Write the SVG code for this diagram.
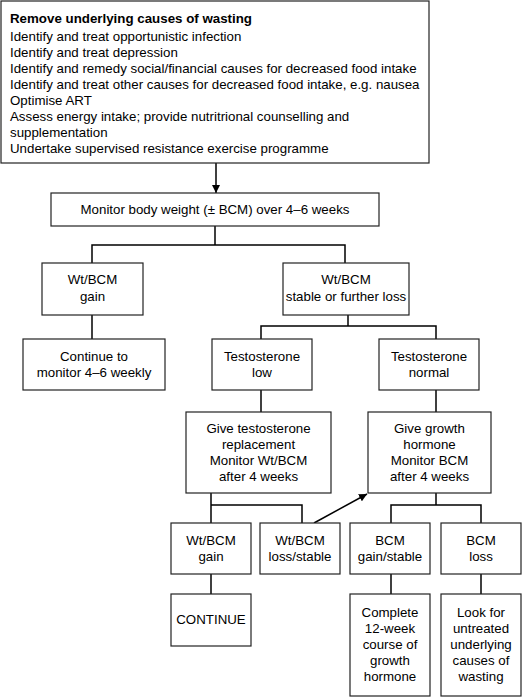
<svg xmlns="http://www.w3.org/2000/svg" width="522" height="697" viewBox="0 0 522 697">
<defs>
<marker id="arr" viewBox="0 0 10 10" refX="10" refY="5" markerWidth="8" markerHeight="8" markerUnits="userSpaceOnUse" orient="auto">
<path d="M0,0 L10,5 L0,10 z" fill="#000"/>
</marker>
<style>
.box{fill:#fff;stroke:#222;stroke-width:1.2}
text{font-family:"Liberation Sans",Arial,sans-serif;font-size:13.3px;fill:#000}
.c{text-anchor:middle}
.b{font-weight:bold;font-size:12.8px}
.ln{fill:none;stroke:#000;stroke-width:1.5}
</style>
</defs>
<rect width="522" height="697" fill="#fff"/>
<g id="connectors">
<line class="ln" x1="216" y1="163" x2="216" y2="193" marker-end="url(#arr)"/>
<polyline class="ln" points="92,263 92,245 345,245 345,263"/>
<line class="ln" x1="215" y1="226" x2="215" y2="245"/>
<line class="ln" x1="92" y1="315" x2="92" y2="339"/>
<line class="ln" x1="348" y1="315" x2="348" y2="326"/>
<polyline class="ln" points="261,339 261,326 436,326 436,339"/>
<line class="ln" x1="261" y1="390" x2="261" y2="412"/>
<line class="ln" x1="436" y1="390" x2="436" y2="412"/>
<polyline class="ln" points="211,493 211,523"/>
<polyline class="ln" points="211,505 302,505 302,523"/>
<line class="ln" x1="436" y1="493" x2="436" y2="505"/>
<polyline class="ln" points="391,523 391,505 481,505 481,523"/>
<line class="ln" x1="314" y1="523" x2="367" y2="494" marker-end="url(#arr)"/>
<line class="ln" x1="211" y1="574" x2="211" y2="594"/>
<line class="ln" x1="391" y1="574" x2="391" y2="594"/>
<line class="ln" x1="481" y1="574" x2="481" y2="594"/>
</g>
<g id="remove">
<rect class="box" x="1" y="1" width="428" height="162"/>
<text class="b" x="10" y="23" textLength="242" lengthAdjust="spacingAndGlyphs">Remove underlying causes of wasting</text>
<text x="10" y="41">Identify and treat opportunistic infection</text>
<text x="10" y="57">Identify and treat depression</text>
<text x="10" y="73">Identify and remedy social/financial causes for decreased food intake</text>
<text x="10" y="89">Identify and treat other causes for decreased food intake, e.g. nausea</text>
<text x="10" y="105">Optimise ART</text>
<text x="10" y="121">Assess energy intake; provide nutritrional counselling and</text>
<text x="10" y="137">supplementation</text>
<text x="10" y="153">Undertake supervised resistance exercise programme</text>
</g>
<g id="monitor">
<rect class="box" x="51" y="193" width="328" height="33"/>
<text class="c" x="215" y="214">Monitor body weight (± BCM) over 4–6 weeks</text>
</g>
<g id="gain1">
<rect class="box" x="42" y="263" width="101" height="52"/>
<text class="c" x="92.5" y="284">Wt/BCM</text>
<text class="c" x="92.5" y="301">gain</text>
</g>
<g id="stable1">
<rect class="box" x="283" y="263" width="126" height="52"/>
<text class="c" x="346" y="284">Wt/BCM</text>
<text class="c" x="346" y="301">stable or further loss</text>
</g>
<g id="continue1">
<rect class="box" x="23" y="339" width="142" height="51"/>
<text class="c" x="94" y="361">Continue to</text>
<text class="c" x="94" y="377">monitor 4–6 weekly</text>
</g>
<g id="testlow">
<rect class="box" x="212" y="339" width="100" height="51"/>
<text class="c" x="262" y="361">Testosterone</text>
<text class="c" x="262" y="377">low</text>
</g>
<g id="testnormal">
<rect class="box" x="379" y="339" width="100" height="51"/>
<text class="c" x="429" y="361">Testosterone</text>
<text class="c" x="429" y="377">normal</text>
</g>
<g id="givetest">
<rect class="box" x="186" y="412" width="145" height="81"/>
<text class="c" x="258.5" y="433">Give testosterone</text>
<text class="c" x="258.5" y="449">replacement</text>
<text class="c" x="258.5" y="465">Monitor Wt/BCM</text>
<text class="c" x="258.5" y="481">after 4 weeks</text>
</g>
<g id="givegh">
<rect class="box" x="368" y="412" width="123" height="81"/>
<text class="c" x="429.5" y="433">Give growth</text>
<text class="c" x="429.5" y="449">hormone</text>
<text class="c" x="429.5" y="465">Monitor BCM</text>
<text class="c" x="429.5" y="481">after 4 weeks</text>
</g>
<g id="gain2">
<rect class="box" x="171" y="523" width="80" height="51"/>
<text class="c" x="211" y="545">Wt/BCM</text>
<text class="c" x="211" y="561">gain</text>
</g>
<g id="loss2">
<rect class="box" x="260" y="523" width="80" height="51"/>
<text class="c" x="300" y="545">Wt/BCM</text>
<text class="c" x="300" y="561">loss/stable</text>
</g>
<g id="bcmgain">
<rect class="box" x="350" y="523" width="80" height="51"/>
<text class="c" x="390" y="545">BCM</text>
<text class="c" x="390" y="561">gain/stable</text>
</g>
<g id="bcmloss">
<rect class="box" x="441" y="523" width="80" height="51"/>
<text class="c" x="481" y="545">BCM</text>
<text class="c" x="481" y="561">loss</text>
</g>
<g id="continue2">
<rect class="box" x="171" y="594" width="80" height="52"/>
<text class="c" x="211" y="624">CONTINUE</text>
</g>
<g id="complete">
<rect class="box" x="350" y="594" width="80" height="102"/>
<text class="c" x="390" y="617">Complete</text>
<text class="c" x="390" y="633">12-week</text>
<text class="c" x="390" y="649">course of</text>
<text class="c" x="390" y="665">growth</text>
<text class="c" x="390" y="681">hormone</text>
</g>
<g id="lookfor">
<rect class="box" x="441" y="594" width="80" height="102"/>
<text class="c" x="481" y="617">Look for</text>
<text class="c" x="481" y="633">untreated</text>
<text class="c" x="481" y="649">underlying</text>
<text class="c" x="481" y="665">causes of</text>
<text class="c" x="481" y="681">wasting</text>
</g>
</svg>
